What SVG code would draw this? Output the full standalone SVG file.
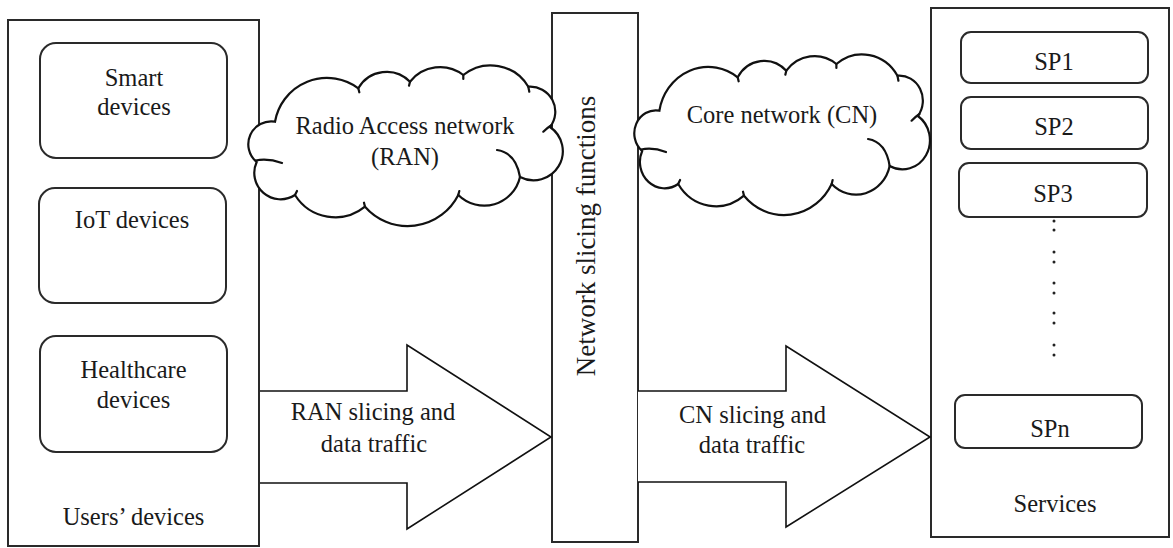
<svg xmlns="http://www.w3.org/2000/svg" xmlns:xlink="http://www.w3.org/1999/xlink" width="1173" height="548" viewBox="0 0 1173 548">
  <style>
    .box { fill: #fff; stroke: #2a2a2a; stroke-width: 2; }
    .rbox { fill: #fff; stroke: #2a2a2a; stroke-width: 2; }
    .cloud { fill: #fff; stroke: #111; stroke-width: 2.2; }
    .cloud-detail { fill: none; stroke: #111; stroke-width: 2.2; stroke-linecap: round; }
    .arrow { fill: #fff; stroke: #111; stroke-width: 1.6; stroke-linejoin: miter; }
    .t { font-family: "Liberation Serif", "Times New Roman", serif; font-size: 24.5px; fill: #1a1a1a; text-anchor: middle; }
    .tv { font-family: "Liberation Serif", "Times New Roman", serif; font-size: 27px; fill: #1a1a1a; text-anchor: middle; }
    .dot { fill: #222; }
  </style>
  <defs>
    <g id="cloudShape">
      <path class="cloud" vector-effect="non-scaling-stroke" d="M27,54.7 A52.7,52.7 0 0 1 110.3,21.3 A32.6,32.6 0 0 1 162,14.7 A38.3,38.3 0 0 1 215.3,8 A43.8,43.8 0 0 1 280.3,19.7 A25,25 0 0 1 302,60 A29.2,29.2 0 0 1 272,110 A36.7,36.7 0 0 1 210.3,128 A56.7,56.7 0 0 1 117,139.7 A47.4,47.4 0 0 1 47,128 A26.3,26.3 0 0 1 8.7,95 A22.9,22.9 0 0 1 27,54.7 Z"/>
      <path class="cloud-detail" vector-effect="non-scaling-stroke" d="M7.5,93.5 Q20,91 34,96 M249,83 Q268,86 272,110 M303.7,58 Q299,61 295.3,64.7 M110.3,21.3 l1,4 M162,14.7 l-1,4 M215.3,8 l0,4 M280.3,19.7 l1,5 M210.3,128 l1,-4 M117,139.7 l-1,-4 M47,128 l2,-4"/>
    </g>
  </defs>

  <g id="users-devices">
    <rect class="box" x="8" y="20" width="251" height="526"/>
    <text class="t" x="133.5" y="525">Users’ devices</text>
  </g>
  <g id="smart-devices">
    <rect class="rbox" x="40" y="43" width="187" height="115" rx="16" ry="16"/>
    <text class="t" x="134" y="86">Smart</text>
    <text class="t" x="134" y="115">devices</text>
  </g>
  <g id="iot-devices">
    <rect class="rbox" x="39" y="188" width="187" height="115" rx="16" ry="16"/>
    <text class="t" x="132" y="228">IoT devices</text>
  </g>
  <g id="healthcare-devices">
    <rect class="rbox" x="40" y="336" width="187" height="116" rx="16" ry="16"/>
    <text class="t" x="133.5" y="378">Healthcare</text>
    <text class="t" x="133.5" y="408">devices</text>
  </g>

  <g id="network-slicing-functions">
    <rect class="box" x="552" y="13" width="86" height="529"/>
    <text class="tv" transform="translate(595,236) rotate(-90)" x="0" y="0">Network slicing functions</text>
  </g>

  <g id="services">
    <rect class="box" x="931" y="8" width="238" height="529"/>
    <text class="t" x="1055" y="512">Services</text>
  </g>
  <g id="sp1">
    <rect class="rbox" x="961" y="32" width="187" height="51" rx="10" ry="10"/>
    <text class="t" x="1054" y="70">SP1</text>
  </g>
  <g id="sp2">
    <rect class="rbox" x="961" y="97" width="187" height="52" rx="10" ry="10"/>
    <text class="t" x="1054" y="135">SP2</text>
  </g>
  <g id="sp3">
    <rect class="rbox" x="959" y="163" width="188" height="54" rx="10" ry="10"/>
    <text class="t" x="1053" y="202">SP3</text>
  </g>
  <g id="sp-ellipsis">
    <circle class="dot" cx="1054" cy="221" r="1.5"/>
    <circle class="dot" cx="1054" cy="230" r="1.5"/>
    <circle class="dot" cx="1054" cy="252" r="1.5"/>
    <circle class="dot" cx="1054" cy="262" r="1.5"/>
    <circle class="dot" cx="1054" cy="283" r="1.5"/>
    <circle class="dot" cx="1054" cy="293" r="1.5"/>
    <circle class="dot" cx="1054" cy="313" r="1.5"/>
    <circle class="dot" cx="1054" cy="323" r="1.5"/>
    <circle class="dot" cx="1054" cy="345" r="1.5"/>
    <circle class="dot" cx="1054" cy="355" r="1.5"/>
  </g>
  <g id="spn">
    <rect class="rbox" x="955" y="395" width="187" height="53" rx="10" ry="10"/>
    <text class="t" x="1050" y="437">SPn</text>
  </g>

  <g id="ran-cloud">
    <use xlink:href="#cloudShape" href="#cloudShape" transform="translate(248,67)"/>
    <text class="t" x="405" y="134">Radio Access network</text>
    <text class="t" x="405" y="165">(RAN)</text>
  </g>
  <g id="cn-cloud">
    <use xlink:href="#cloudShape" href="#cloudShape" transform="translate(634,56) scale(0.94,1)"/>
    <text class="t" x="782" y="123">Core network (CN)</text>
  </g>

  <g id="connectors">
    <g id="ran-arrow">
      <path class="arrow" d="M260,391 H407 V345 L551,437 L407,529 V483 H260"/>
      <text class="t" x="373" y="420">RAN slicing and</text>
      <text class="t" x="374" y="452">data traffic</text>
    </g>
    <g id="cn-arrow">
      <path class="arrow" d="M638,391 H786 V346 L930,437 L786,527 V482 H638"/>
      <text class="t" x="752.5" y="423">CN slicing and</text>
      <text class="t" x="752" y="453">data traffic</text>
    </g>
  </g>
</svg>
